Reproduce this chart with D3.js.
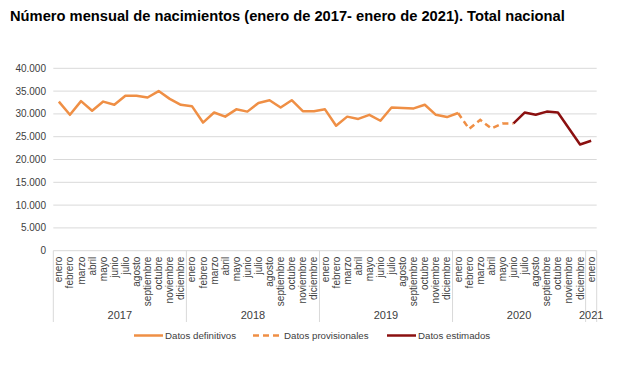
<!DOCTYPE html>
<html>
<head>
<meta charset="utf-8">
<script src="https://cdn.jsdelivr.net/npm/d3@7"></script>
<style>
  body { margin: 0; background: #fff; }
  text { font-family: "Liberation Sans", Arial, sans-serif; }
</style>
</head>
<body>
<div id="chart"></div>
<script>
// Month and year labels
const meses = ["enero", "febrero", "marzo", "abril", "mayo", "junio", "julio",
  "agosto", "septiembre", "octubre", "noviembre", "diciembre"];
const anios = [2017, 2018, 2019, 2020, 2021];
const yTicks = [0, 5000, 10000, 15000, 20000, 25000, 30000, 35000, 40000];

// Datos definitivos: enero 2017 - enero 2020
const definitivos = [
  32700, 29800, 32800, 30700, 32700, 32000, 34000, 34000, 33600, 35000, 33300, 32000,
  31700, 28100, 30300, 29400, 31000, 30500, 32400, 33000, 31400, 33000, 30600, 30600,
  31000, 27400, 29400, 28900, 29800, 28500, 31400, 31300, 31200, 32000, 29800, 29300,
  30200
];
// Datos provisionales: enero 2020 - junio 2020
const provisionales = [30200, 26700, 28700, 26800, 27900, 27900];
const inicioProv = 36;
// Datos estimados: junio 2020 - enero 2021
const estimados = [27900, 30300, 29800, 30500, 30300, 26800, 23300, 24100];
const inicioEst = 41;

// Build category list (month index -> label)
const categorias = [];
anios.forEach(a => {
  const n = a === 2021 ? 1 : 12;
  for (let m = 0; m < n; m++) categorias.push({ i: categorias.length, mes: meses[m], anio: a });
});

const width = 619, height = 366;
const margin = { left: 53.3, right: 22.3, top: 68.3, bottom: 115.3 };

const svg = d3.select("#chart").append("svg")
  .attr("width", width)
  .attr("height", height);

// Title
svg.append("text")
  .attr("x", 10)
  .attr("y", 20.5)
  .attr("font-size", 14.7)
  .attr("font-weight", "bold")
  .attr("fill", "#000")
  .text("Número mensual de nacimientos (enero de 2017- enero de 2021). Total nacional");

const x = d3.scaleBand()
  .domain(categorias.map(d => d.i))
  .range([margin.left, width - margin.right]);

const y = d3.scaleLinear()
  .domain([0, 40000])
  .range([height - margin.bottom, margin.top]);

const fmt = d3.formatLocale({ decimal: ",", thousands: ".", grouping: [3], currency: ["", "€"] }).format(",");

// Gridlines
svg.append("g")
  .selectAll("line")
  .data(yTicks)
  .enter()
  .append("line")
  .attr("x1", margin.left)
  .attr("x2", width - margin.right)
  .attr("y1", d => y(d))
  .attr("y2", d => y(d))
  .attr("stroke", "#d9d9d9")
  .attr("stroke-width", 1);

// Y labels
svg.append("g")
  .selectAll("text")
  .data(yTicks)
  .enter()
  .append("text")
  .attr("x", 46)
  .attr("y", d => y(d))
  .attr("dy", "0.35em")
  .attr("text-anchor", "end")
  .attr("font-size", 10)
  .attr("fill", "#404040")
  .text(d => fmt(d));

// Year separators
const y0 = y(0);
const sepIdx = [0, 12, 24, 36, 48, 49];
svg.append("g")
  .selectAll("line")
  .data(sepIdx)
  .enter()
  .append("line")
  .attr("x1", d => d < 49 ? x(d) : x(48) + x.bandwidth())
  .attr("x2", d => d < 49 ? x(d) : x(48) + x.bandwidth())
  .attr("y1", y0)
  .attr("y2", 322)
  .attr("stroke", "#d9d9d9")
  .attr("stroke-width", 1);

// Month labels
svg.append("g")
  .selectAll("text")
  .data(categorias)
  .enter()
  .append("text")
  .attr("transform", d => `translate(${x(d.i) + x.bandwidth() / 2},${y0 + 6}) rotate(-90)`)
  .attr("dy", "0.35em")
  .attr("text-anchor", "end")
  .attr("font-size", 10)
  .attr("fill", "#404040")
  .text(d => d.mes);

// Year labels
svg.append("g")
  .selectAll("text")
  .data(anios)
  .enter()
  .append("text")
  .attr("x", a => {
    const items = categorias.filter(c => c.anio === a);
    return (x(items[0].i) + x(items[items.length - 1].i) + x.bandwidth()) / 2;
  })
  .attr("y", 319)
  .attr("text-anchor", "middle")
  .attr("font-size", 11)
  .attr("fill", "#404040")
  .text(a => a);

// Lines
const line = d3.line()
  .x(d => x(d.i) + x.bandwidth() / 2)
  .y(d => y(d.v));

const naranja = "#ef8f45", granate = "#8b1010";

svg.append("path")
  .datum(definitivos.map((v, i) => ({ i, v })))
  .attr("fill", "none")
  .attr("stroke", naranja)
  .attr("stroke-width", 2.5)
  .attr("stroke-linejoin", "round")
  .attr("d", line);

svg.append("path")
  .datum(provisionales.map((v, i) => ({ i: i + inicioProv, v })))
  .attr("fill", "none")
  .attr("stroke", naranja)
  .attr("stroke-width", 2.5)
  .attr("stroke-dasharray", "6,4")
  .attr("d", line);

svg.append("path")
  .datum(estimados.map((v, i) => ({ i: i + inicioEst, v })))
  .attr("fill", "none")
  .attr("stroke", granate)
  .attr("stroke-width", 2.5)
  .attr("stroke-linejoin", "round")
  .attr("d", line);

// Legend
const legend = [
  { label: "Datos definitivos", color: naranja, dash: null, x: 134 },
  { label: "Datos provisionales", color: naranja, dash: "6,4", x: 253 },
  { label: "Datos estimados", color: granate, dash: null, x: 387 }
];
const lg = svg.append("g");
legend.forEach(l => {
  lg.append("line")
    .attr("x1", l.x)
    .attr("x2", l.x + 29)
    .attr("y1", 335.5)
    .attr("y2", 335.5)
    .attr("stroke", l.color)
    .attr("stroke-width", 2.5)
    .attr("stroke-dasharray", l.dash);
  lg.append("text")
    .attr("x", l.x + 31)
    .attr("y", 335.5)
    .attr("dy", "0.35em")
    .attr("font-size", 9.7)
    .attr("fill", "#404040")
    .text(l.label);
});
</script>
</body>
</html>
